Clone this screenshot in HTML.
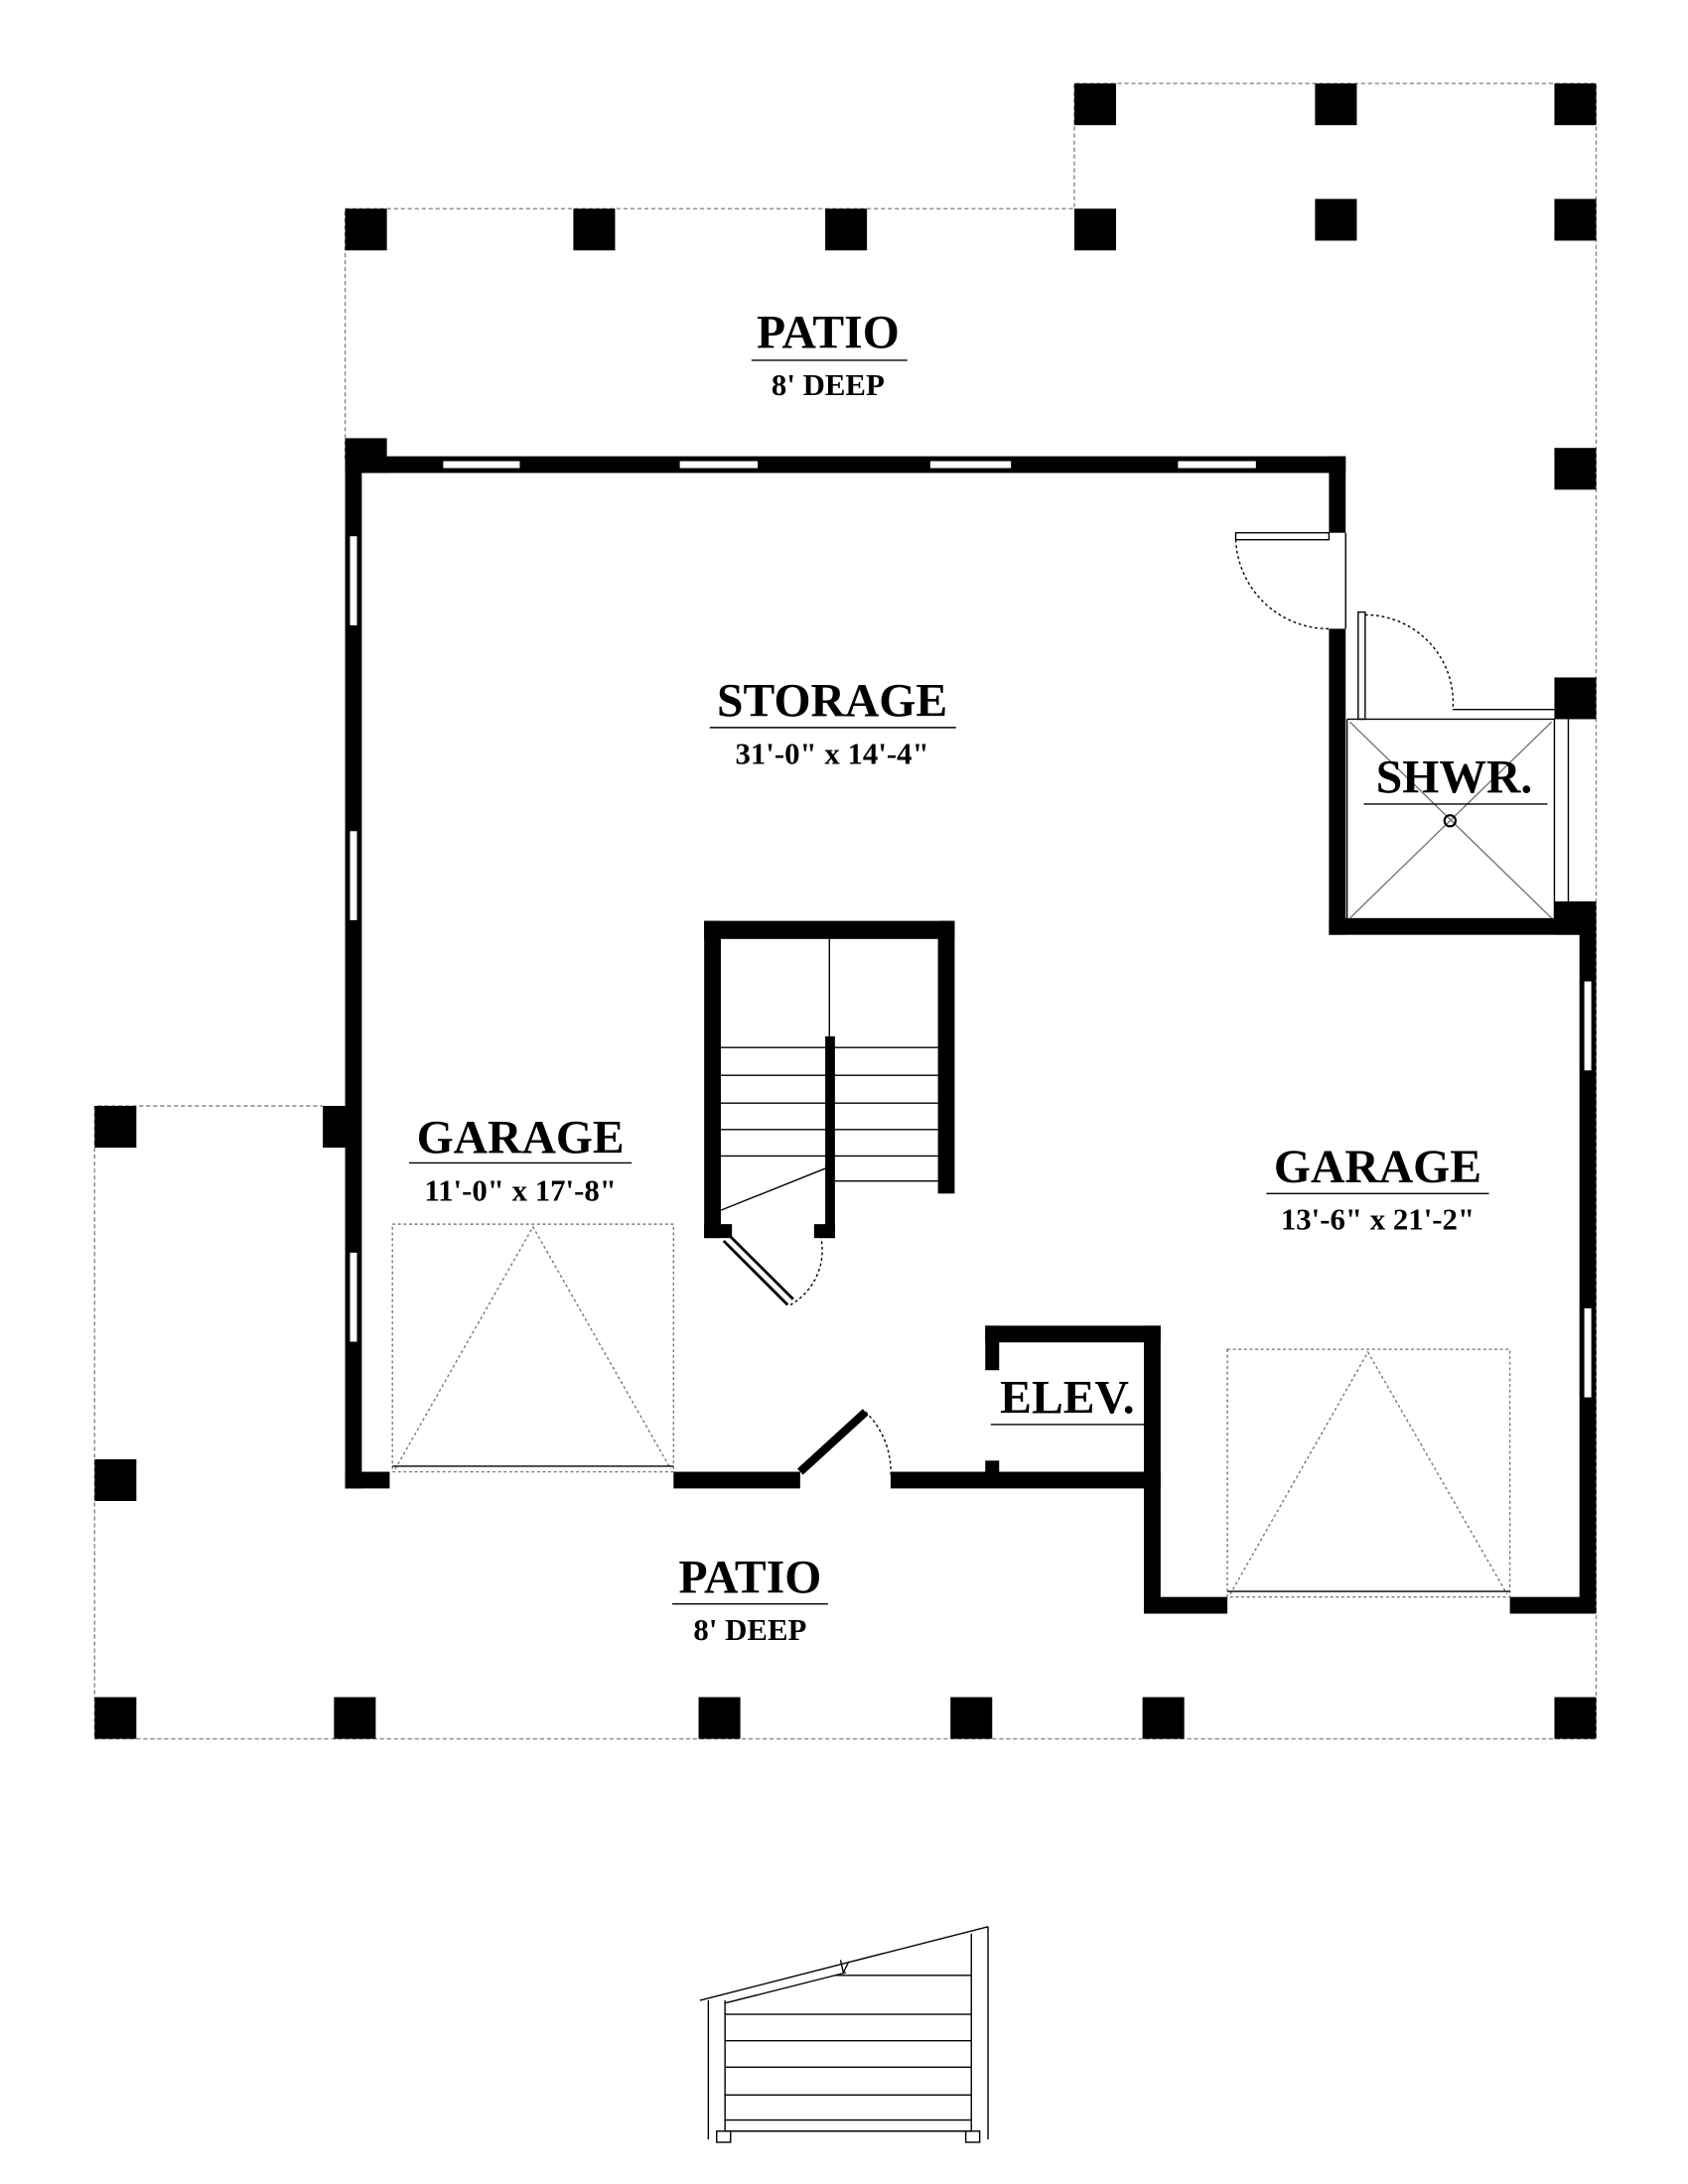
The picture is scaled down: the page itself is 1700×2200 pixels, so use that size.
<!DOCTYPE html>
<html><head><meta charset="utf-8"><style>html,body{margin:0;padding:0;background:#fff}svg{display:block}</style></head>
<body>
<svg width="1700" height="2200" viewBox="0 0 1213 1570" preserveAspectRatio="none" xmlns="http://www.w3.org/2000/svg">
<rect width="1213" height="1570" fill="#fff"/>
<g stroke="#888" stroke-width="1" stroke-dasharray="3,2" fill="none">
<path d="M248 330 V150 H772 V60 H1147 V1250 H68 V795 H232"/>
</g>
<g fill="#000">
<rect x="248" y="150" width="30" height="30"/><rect x="412" y="150" width="30" height="30"/>
<rect x="593" y="150" width="30" height="30"/><rect x="772" y="150" width="30" height="30"/>
<rect x="772" y="60" width="30" height="30"/><rect x="945" y="60" width="30" height="30"/>
<rect x="1117" y="60" width="30" height="30"/><rect x="945" y="143" width="30" height="30"/>
<rect x="1117" y="143" width="30" height="30"/><rect x="1117" y="322" width="30" height="30"/>
<rect x="1117" y="487" width="30" height="30"/>
<rect x="68" y="795" width="30" height="30"/><rect x="68" y="1049" width="30" height="30"/>
<rect x="68" y="1220" width="30" height="30"/><rect x="240" y="1220" width="30" height="30"/>
<rect x="502" y="1220" width="30" height="30"/><rect x="683" y="1220" width="30" height="30"/>
<rect x="821" y="1220" width="30" height="30"/><rect x="1117" y="1220" width="30" height="30"/>
<rect x="248" y="315" width="30" height="25"/>
<rect x="232" y="795" width="18" height="30"/>
<rect x="248" y="328" width="719" height="12"/>
<rect x="955" y="328" width="12" height="55"/>
<rect x="955" y="452" width="12" height="220"/>
<rect x="955" y="660" width="192" height="12"/>
<rect x="1117" y="648" width="30" height="24"/>
<rect x="1135" y="648" width="12" height="512"/>
<rect x="822" y="1148" width="60" height="12"/>
<rect x="1085" y="1148" width="62" height="12"/>
<rect x="822" y="1060" width="12" height="100"/>
<rect x="822" y="953" width="12" height="107"/>
<rect x="708" y="953" width="126" height="12"/>
<rect x="708" y="953" width="10" height="32"/>
<rect x="708" y="1050" width="10" height="12"/>
<rect x="248" y="1058" width="32" height="12"/>
<rect x="484" y="1058" width="91" height="12"/>
<rect x="640" y="1058" width="194" height="12"/>
<rect x="248" y="328" width="12" height="742"/>
<rect x="506" y="662" width="180" height="13"/>
<rect x="506" y="662" width="12" height="228"/>
<rect x="674" y="662" width="12" height="196"/>
<rect x="593" y="745" width="7" height="145"/>
<rect x="506" y="880" width="20" height="10"/>
<rect x="585" y="880" width="15" height="10"/>
</g>
<g fill="#fff" stroke="#000" stroke-width="1">
<rect x="318" y="331" width="56" height="6"/><rect x="488" y="331" width="57" height="6"/>
<rect x="668" y="331" width="59" height="6"/><rect x="846" y="331" width="57" height="6"/>
<rect x="251" y="385" width="6" height="65"/><rect x="251" y="597" width="6" height="65"/>
<rect x="251" y="900" width="6" height="65"/>
<rect x="1138" y="705" width="6" height="65"/><rect x="1138" y="940" width="6" height="65"/>
</g>
<g fill="none" stroke="#000" stroke-width="1">
<rect x="888" y="383" width="67" height="5"/>
<path d="M888 388 A67 67 0 0 0 955 452" stroke-dasharray="2,2"/>
<line x1="967" y1="383" x2="967" y2="452"/>
<rect x="976" y="440" width="5" height="77"/>
<path d="M981 442 A63 63 0 0 1 1044 510" stroke-dasharray="2,2"/>
<line x1="1044" y1="510" x2="1117" y2="510"/>
<line x1="968" y1="517" x2="1117" y2="517"/>
<line x1="1117" y1="517" x2="1117" y2="660"/>
<line x1="1127" y1="517" x2="1127" y2="648"/>
<line x1="968" y1="517" x2="968" y2="660"/>
<g stroke="#777"><line x1="970" y1="519" x2="1115" y2="660"/><line x1="1115" y1="519" x2="970" y2="660"/></g>
<circle cx="1042" cy="590" r="4" stroke-width="1.5"/>
<line x1="596" y1="675" x2="596" y2="745"/>
<line x1="518" y1="753" x2="674" y2="753"/><line x1="518" y1="773" x2="674" y2="773"/>
<line x1="518" y1="793" x2="674" y2="793"/><line x1="518" y1="812" x2="674" y2="812"/>
<line x1="518" y1="831" x2="674" y2="831"/><line x1="600" y1="849" x2="674" y2="849"/>
<line x1="518" y1="870" x2="593" y2="840"/>
<path d="M520 892 L566 938 M524 888 L570 934" stroke-width="2"/>
<path d="M568 938 A45 45 0 0 0 590 890" stroke-dasharray="2,2"/>
<g stroke="#777" stroke-dasharray="2,2"><rect x="282" y="880" width="202" height="178"/>
<path d="M284 1056 L383 882 L482 1056"/>
<rect x="882" y="970" width="203" height="178"/><path d="M884 1146 L983 972 L1083 1146"/></g>
<line x1="282" y1="1054" x2="484" y2="1054"/>
<line x1="882" y1="1144" x2="1085" y2="1144"/>
<path d="M575 1058 L622 1015" stroke-width="6"/>
<path d="M622 1015 A60 60 0 0 1 640 1062" stroke-dasharray="2,2"/>
<path d="M503 1438 L710 1385 M509 1438 V1538 M521 1438 V1532 M698 1390 V1532 M710 1385 V1538 M521 1448 H698 M521 1467 H698 M521 1486 H698 M521 1506 H698 M521 1524 H698 M608 1418 L521 1440 M521 1532 H698 M600 1420 H698 M604 1409 L606 1418 L610 1410"/>
<rect x="515" y="1532" width="10" height="8"/><rect x="694" y="1532" width="10" height="8"/>
</g>
<g font-family="Liberation Serif, serif" text-anchor="middle" fill="#000" font-weight="bold">
<text x="595" y="250" font-size="34">PATIO</text><line x1="540" y1="259" x2="652" y2="259" stroke="#000"/>
<text x="595" y="284" font-size="22">8' DEEP</text>
<text x="598" y="515" font-size="34">STORAGE</text><line x1="510" y1="523" x2="687" y2="523" stroke="#000"/>
<text x="598" y="549" font-size="22">31'-0" x 14'-4"</text>
<text x="1045" y="570" font-size="34">SHWR.</text><line x1="980" y1="578" x2="1112" y2="578" stroke="#000"/>
<text x="374" y="829" font-size="34">GARAGE</text><line x1="294" y1="836" x2="454" y2="836" stroke="#000"/>
<text x="374" y="863" font-size="22">11'-0" x 17'-8"</text>
<text x="990" y="850" font-size="34">GARAGE</text><line x1="910" y1="858" x2="1070" y2="858" stroke="#000"/>
<text x="990" y="884" font-size="22">13'-6" x 21'-2"</text>
<text x="767" y="1016" font-size="34">ELEV.</text><line x1="712" y1="1024" x2="822" y2="1024" stroke="#000"/>
<text x="539" y="1145" font-size="34">PATIO</text><line x1="483" y1="1153" x2="595" y2="1153" stroke="#000"/>
<text x="539" y="1179" font-size="22">8' DEEP</text>
</g>
</svg>
</body></html>
